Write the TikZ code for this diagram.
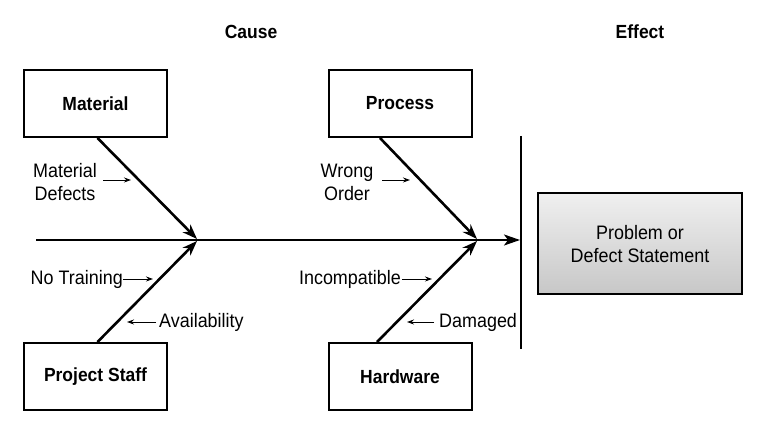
\documentclass[tikz,border=0pt]{standalone}
\usepackage{fontspec}
\setmainfont{Liberation Sans}[FakeStretch=0.92]
\usetikzlibrary{arrows.meta}
\begin{document}
\begin{tikzpicture}[x=1pt,y=-1pt,
  every node/.style={font=\fontsize{19.5}{23}\selectfont, inner sep=0pt},
  causebox/.style={draw, line width=2pt, minimum width=143pt, minimum height=67pt, font=\fontsize{19}{22}\selectfont\bfseries},
  effectbox/.style={draw, line width=2pt, minimum width=204pt, minimum height=101pt, top color=white!94!black, bottom color=white!78!black, align=center},
  branch/.style={line width=2.6pt, -{Stealth[length=15pt,width=11pt,inset=5pt]}},
  spine/.style={line width=1.8pt, -{Stealth[length=16pt,width=11pt,inset=4pt]}},
  small/.style={line width=0.9pt, -{Stealth[length=7pt,width=5pt]}},
  heading/.style={font=\fontsize{19}{22}\selectfont\bfseries}
]
\useasboundingbox (0,0) rectangle (764,438);

% headings
\node[heading] (cause) at (251,32) {Cause};
\node[heading] (effect) at (640,32) {Effect};

% cause boxes
\node[causebox] (mat) at (95.5,103.5) {Material};
\node[causebox] (proc) at (400,103.5) {Process};
\node[causebox] (staff) at (95.5,376.5) {Project Staff};
\node[causebox] (hw) at (400,376.5) {Hardware};

% effect box
\node[effectbox] (prob) at (640,244) {Problem or\\Defect Statement};

% spine and head line
\coordinate (s0) at (36,240);
\coordinate (s1) at (520,240);
\coordinate (v0) at (521,136);
\coordinate (v1) at (521,349);
\draw[line width=1.8pt] (v0) -- (v1);
\draw[spine] (s0) -- (s1);

% junctions
\coordinate (j1) at (197,239);
\coordinate (j2) at (477,239);
\coordinate (j1b) at (197,241);
\coordinate (j2b) at (477,241);

\draw[branch] ([xshift=2pt]mat.south) -- (j1);
\draw[branch] ([xshift=-20pt]proc.south) -- (j2);
\draw[branch] ([xshift=2pt]staff.north) -- (j1b);
\draw[branch] ([xshift=-23pt]hw.north) -- (j2b);

% sub-cause labels
\node[align=center] (md) at (65,182.5) {Material\\Defects};
\node[align=center] (wo) at (347,182.5) {Wrong\\Order};
\node[anchor=east] (nt) at (123,279) {No Training};
\node[anchor=west] (av) at (159,322) {Availability};
\node[anchor=east] (inc) at (401,279) {Incompatible};
\node[anchor=west] (dam) at (439,322) {Damaged};

\coordinate (mdA) at (103,180);
\coordinate (mdB) at (131,180);
\coordinate (woA) at (382,180);
\coordinate (woB) at (410,180);
\coordinate (ntB) at (153,279);
\coordinate (avB) at (127,322);
\coordinate (incB) at (432,279);
\coordinate (damB) at (407,322);

\draw[small] (mdA) -- (mdB);
\draw[small] (woA) -- (woB);
\draw[small] (nt.east) -- (ntB);
\draw[small] ([xshift=-3pt]av.west) -- (avB);
\draw[small] ([xshift=1pt]inc.east) -- (incB);
\draw[small] ([xshift=-5pt]dam.west) -- (damB);
\end{tikzpicture}
\end{document}
